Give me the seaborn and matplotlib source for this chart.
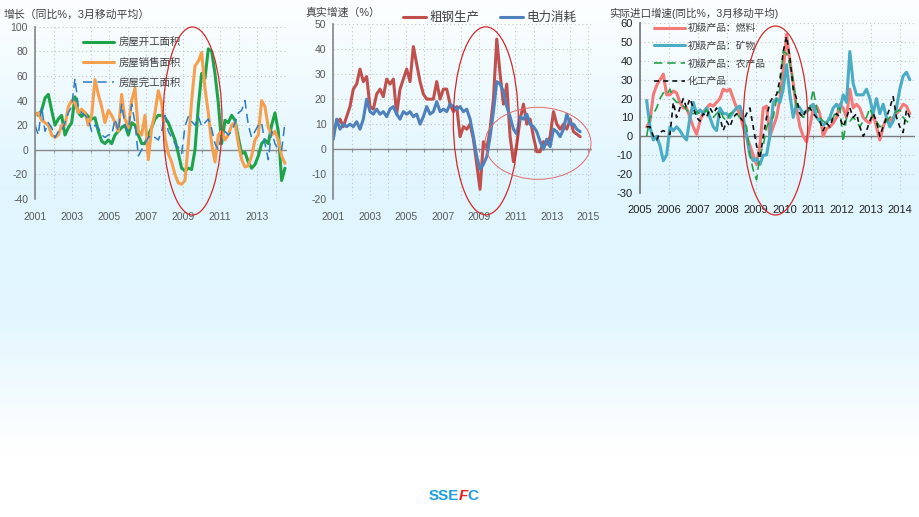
import numpy as np
import pandas as pd
import matplotlib
matplotlib.use('Agg')
import matplotlib.pyplot as plt
import seaborn as sns
from matplotlib.patches import Ellipse

# ---- panel 1: housing (yoy %, 3m avg), 2001 - mid 2014
p1_span = (2001.0, 2014.51)
start_area = [30, 28, 32, 42, 45, 32, 20, 25, 28, 12, 18, 22, 43, 30, 27, 30, 27, 25, 26, 15,
              7, 5, 8, 5, 12, 15, 18, 20, 12, 22, 20, 12, 5, 5, 12, 18, 25, 28, 28, 26,
              22, 15, 8, -3, -15, -17, -15, -16, 0, 35, 62, 58, 82, 80, 62, 38, 5, 24, 22, 28,
              24, 10, -3, -2, -10, -15, -12, -5, 5, 8, 5, 20, 30, 15, -25, -15]
sales_area = [28, 30, 24, 22, 20, 12, 10, 12, 20, 20, 35, 40, 38, 30, 33, 30, 20, 28, 57, 45,
              35, 22, 32, 28, 22, 15, 45, 25, 18, 40, 50, 15, 12, 28, -8, 18, 30, 48, 38, 10,
              -3, -10, -20, -27, -28, -25, 5, 40, 68, 72, 79, 50, 30, 5, -10, 12, 15, 8, 12, 20,
              22, 5, -8, -14, -13, -5, 8, 12, 40, 35, 18, 12, 15, 8, -5, -11]
done_area = [20, 12, 35, 15, 22, 18, 10, 15, 15, 22, 30, 35, 58, 35, 30, 28, 25, 15, 20, 18,
             12, 10, 12, 12, 25, 15, 37, 20, 15, 37, 22, -5, 0, 5, 10, 12, 10, 8, 15, 28,
             15, 10, 5, 2, -3, 19, 27, 23, 20, 27, 19, 22, 25, 17, 5, 0, 12, 15, 12, 15,
             22, 30, 32, 40, 20, 10, 15, 20, 22, 5, -8, 15, 5, 0, 0, 22]

# ---- panel 2: real growth %, 2001 - mid 2014
p2_span = (2001.0, 2014.55)
steel = [8, 10, 12, 9, 13, 17, 24, 26, 32, 27, 29, 17, 16, 22, 24, 21, 28, 26, 28, 14,
         24, 28, 32, 27, 41, 34, 27, 22, 20, 20, 20, 27, 20, 24, 24, 18, 15, 17, 5, 9,
         8, 10, 4, -6, -16, 3, 0, 8, 20, 44, 30, 18, 26, 5, -5, 2, 12, 18, 10, 12,
         5, -1, -1, 3, 2, 5, 15, 10, 8, 10, 8, 12, 7, 6, 5]
power = [4, 12, 8, 10, 9, 10, 9, 11, 8, 12, 20, 15, 14, 16, 14, 15, 13, 16, 17, 14,
         12, 15, 14, 15, 13, 14, 10, 13, 17, 14, 15, 19, 15, 16, 15, 18, 17, 16, 17, 15,
         16, 12, 5, -3, -8, -6, -3, 5, 15, 27, 26, 23, 17, 13, 8, 6, 13, 12, 14, 10,
         9, 7, 3, 0, 4, 1, 8, 7, 5, 8, 14, 10, 10, 8, 7]

# ---- panel 3: real import growth (yoy %, 3m avg), 2005 - 2014
p3_span = (2005.23, 2014.34)
fuel = [5, 8, 22, 27, 30, 33, 22, 22, 24, 23, 18, 15, 15, 10, 5, 1, 8, 13, 15, 17,
        16, 18, 20, 25, 24, 25, 20, 15, 12, 5, 0, -5, -10, -15, -5, 15, 16, 0, 5, 10,
        20, 35, 54, 40, 28, 15, 5, 0, -3, 5, 15, 16, 12, 0, 4, 5, 7, 10, 17, 15,
        10, 25, 15, 17, 15, 10, 8, 7, 12, 5, -2, 5, 10, 8, 10, 12, 14, 17, 16, 12]
mineral = [19, 5, -2, 0, -5, -13, -10, 5, 3, 5, 3, 0, -2, 10, 18, 12, 14, 12, 15, 10,
           5, 3, 15, 12, 12, 10, 13, 15, 16, 10, 0, -10, -13, -12, -15, -10, -10, 0, 18, 20,
           18, 25, 38, 22, 10, 17, 15, 12, 13, 15, 17, 10, 8, 6, 7, 10, 15, 17, 14, 22,
           18, 45, 28, 22, 22, 22, 25, 20, 12, 20, 12, 17, 10, 5, 8, 15, 25, 32, 34, 30]
agri = [0, 10, 12, 15, 20, 23, 22, 25, 20, 18, 18, 16, 14, 12, 12, 13, 12, 12, 14, 12,
        10, 12, 14, 10, 8, 12, 13, 12, 10, 8, 5, -10, -18, -23, -10, -5, 5, 8, 10, 20,
        25, 45, 44, 38, 30, 15, 12, 10, 12, 15, 25, 15, 10, 8, 7, 8, 10, 14, 15, -3,
        10, 8, 10, 8, 5, 8, 10, 15, 10, 8, 5, 6, 8, 10, 12, 13, 14, 10, 8, 7]
chem = [5, 5, 0, -2, 2, 3, 2, 1, 18, 10, 15, 20, 15, 20, 15, 10, 8, 12, 10, 15,
        12, 15, 10, 3, 8, 5, 10, 12, 10, 8, 12, 15, 5, -5, -12, 0, 10, 18, 21, 22,
        30, 45, 53, 42, 25, 20, 12, 10, 15, 15, 12, 10, 8, 3, 7, 5, 10, 12, 10, 5,
        10, 15, 10, 12, 5, 0, 3, 8, 12, 8, 0, 5, 10, 15, 21, 10, 5, 2, 14, 10]


def frame(span, values):
    return pd.DataFrame({'t': np.linspace(span[0], span[1], len(values)), 'v': values})


def setup(ax, xlim, ylim, ystep, years, labelled, lab_color, lab_size, axis_color):
    ax.set_facecolor('none')
    ax.set_xlim(*xlim)
    ax.set_ylim(*ylim)
    for s in ['top', 'right', 'bottom']:
        ax.spines[s].set_visible(False)
    ax.spines['left'].set_color(axis_color)
    ax.set_yticks(np.arange(ylim[0], ylim[1] + 1, ystep))
    ax.set_xticks(years)
    ax.set_xticklabels([str(y) if y in labelled else '' for y in years])
    ax.tick_params(axis='x', length=0, pad=9, labelsize=lab_size, labelcolor=lab_color)
    ax.tick_params(axis='y', length=3, width=0.8, color=axis_color, pad=2,
                   labelsize=lab_size, labelcolor=lab_color)
    ax.grid(True, color='#c4c4c4', linestyle=(0, (1, 2.5)), linewidth=0.8)
    ax.set_axisbelow(True)
    ax.axhline(0, color=axis_color, lw=1.0, zorder=1.5)
    # small year ticks sit on the zero line
    sec = ax.secondary_xaxis((0 - ylim[0]) / (ylim[1] - ylim[0]))
    sec.set_xticks(years)
    sec.tick_params(length=2.5, width=0.8, color=axis_color, labelbottom=False)
    sec.spines['bottom'].set_visible(False)
    ax.set_xlabel('')
    ax.set_ylabel('')


sns.set_theme(style='white')
plt.rcParams['font.family'] = ['Liberation Sans', 'Noto Sans CJK SC', 'DejaVu Sans']
plt.rcParams['axes.unicode_minus'] = False

fig = plt.figure(figsize=(9.2, 5.17), dpi=100)

# slide background: white -> pale blue -> white
bg = fig.add_axes([0, 0, 1, 1], zorder=-10)
stops = np.array([0.0, 0.36, 0.62, 0.88, 1.0])
rgb = np.array([[0.99, 1.0, 1.0], [0.878, 0.961, 0.996], [0.894, 0.968, 0.996],
                [1.0, 1.0, 1.0], [1.0, 1.0, 1.0]])
yy = np.linspace(0, 1, 300)
grad = np.stack([np.interp(yy, stops, rgb[:, i]) for i in range(3)], axis=1)
bg.imshow(grad[:, None, :], aspect='auto', extent=(0, 1, 1, 0))
bg.axis('off')

# ---------------- panel 1
ax1 = fig.add_axes([35 / 920, 1 - 199 / 517, 252 / 920, 172.3 / 517])
sns.lineplot(data=frame(p1_span, start_area), x='t', y='v', ax=ax1, color='#1fa34a', lw=2.2,
             label='房屋开工面积')
sns.lineplot(data=frame(p1_span, sales_area), x='t', y='v', ax=ax1, color='#f6a04d', lw=2.2,
             label='房屋销售面积')
sns.lineplot(data=frame(p1_span, done_area), x='t', y='v', ax=ax1, color='#2e7cc4', lw=1.1,
             linestyle=(0, (6, 3.5)), label='房屋完工面积')
setup(ax1, (2001, 2014.62), (-40, 100), 20, list(range(2001, 2015)),
      list(range(2001, 2015, 2)), '#595959', 7.5, '#8a8a8a')
ax1.legend(loc='upper left', bbox_to_anchor=(0.17, 0.965), frameon=False, fontsize=7.5,
           handlelength=3.0, handletextpad=0.4, labelspacing=0.92, borderpad=0,
           labelcolor='#404040')

# ---------------- panel 2
ax2 = fig.add_axes([333.3 / 920, 1 - 199.3 / 517, 258.7 / 920, 175.3 / 517])
sns.lineplot(data=frame(p2_span, steel), x='t', y='v', ax=ax2, color='#c0504d', lw=2.2,
             label='粗钢生产')
sns.lineplot(data=frame(p2_span, power), x='t', y='v', ax=ax2, color='#4f81bd', lw=2.2,
             label='电力消耗')
setup(ax2, (2001, 2015.2), (-20, 50), 10, list(range(2001, 2016)),
      list(range(2001, 2016, 2)), '#595959', 7.5, '#8a8a8a')
ax2.legend(loc='center left', bbox_to_anchor=(0.245, 1.035), ncol=2, frameon=False,
           fontsize=9, handlelength=1.85, handletextpad=0.3, columnspacing=1.6, borderpad=0,
           labelcolor='#404040')

# ---------------- panel 3
ax3 = fig.add_axes([640 / 920, 1 - 192.7 / 517, 275 / 920, 169.4 / 517])
sns.lineplot(data=frame(p3_span, fuel), x='t', y='v', ax=ax3, color='#f47a78', lw=2.2,
             label='初级产品：燃料')
sns.lineplot(data=frame(p3_span, mineral), x='t', y='v', ax=ax3, color='#4bacc6', lw=2.2,
             label='初级产品：矿物')
sns.lineplot(data=frame(p3_span, agri), x='t', y='v', ax=ax3, color='#26a046', lw=1.2,
             linestyle=(0, (5, 3)), label='初级产品：农产品')
sns.lineplot(data=frame(p3_span, chem), x='t', y='v', ax=ax3, color='#111111', lw=1.2,
             linestyle=(0, (3, 2.5)), label='化工产品')
setup(ax3, (2005, 2014.52), (-30, 60), 10, list(range(2005, 2015)),
      list(range(2005, 2015)), '#222222', 8, '#7a7a7a')
ax3.legend(loc='upper left', bbox_to_anchor=(0.035, 1.03), frameon=False, fontsize=7,
           handlelength=3.1, handletextpad=0.3, labelspacing=0.8, borderpad=0,
           labelcolor='#404040')

# ---------------- overlay in pixel units: titles, circles, logo
ov = fig.add_axes([0, 0, 1, 1], zorder=10)
ov.set_xlim(0, 920)
ov.set_ylim(517, 0)
ov.axis('off')
ov.patch.set_alpha(0)

ov.text(4, 15, '增长（同比%，3月移动平均）', fontsize=7.8, color='#404040', va='center')
ov.text(305, 13, '真实增速（%）', fontsize=7.8, color='#404040', va='center')
ov.text(609, 13, '实际进口增速(同比%，3月移动平均)', fontsize=7.6, color='#404040', va='center')

for cx, cy, w, h, c, lw in [(192.5, 121, 59, 188, '#d22a2a', 0.9),
                            (485.8, 120.8, 65, 188, '#d22a2a', 0.9),
                            (538, 143.3, 106, 72, '#e36a6a', 0.7),
                            (775.5, 120.5, 64.4, 189, '#d22a2a', 0.9)]:
    ov.add_patch(Ellipse((cx, cy), w, h, fill=False, ec=c, lw=lw))

ov.text(459, 496, 'SSE', fontsize=11, fontweight='bold', color='#1b9fe0', ha='right', va='center')
ov.text(459, 496, 'F', fontsize=11, fontweight='bold', style='italic', color='#e8201f',
        ha='left', va='center')
ov.text(467, 496, 'C', fontsize=11, fontweight='bold', color='#1b9fe0', ha='left', va='center')

fig.savefig('out.png', dpi=100)
